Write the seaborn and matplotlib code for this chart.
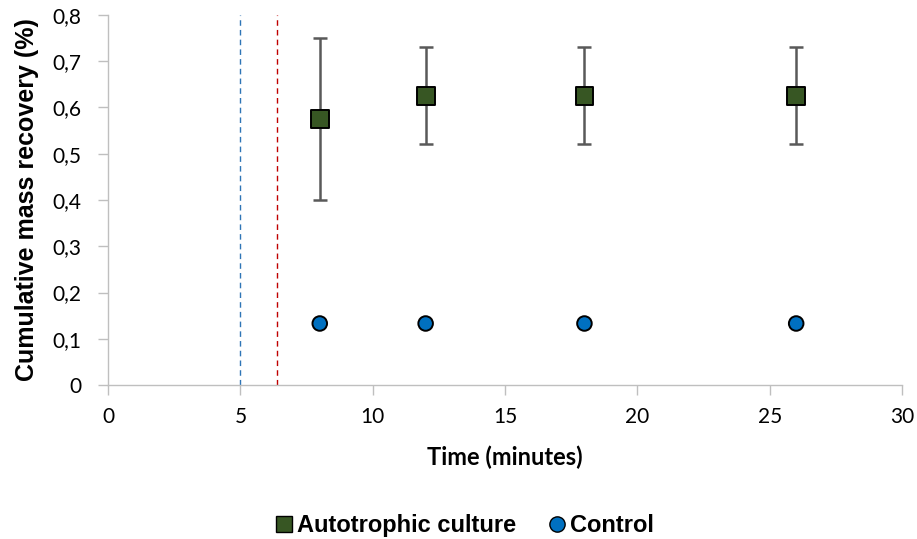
import matplotlib
matplotlib.use("Agg")
import matplotlib.pyplot as plt
from matplotlib.lines import Line2D
import seaborn as sns
import pandas as pd

# Sampling times (minutes) and cumulative mass recovery (%)
times = [8, 12, 18, 26]
autotrophic = [0.575, 0.625, 0.625, 0.625]
autotrophic_err = [0.175, 0.105, 0.105, 0.105]
control = [0.133, 0.133, 0.133, 0.133]

# Reference event times (minutes)
event_blue = 5.0
event_red = 6.4

x_ticks = [0, 5, 10, 15, 20, 25, 30]
y_ticks = [0, 0.1, 0.2, 0.3, 0.4, 0.5, 0.6, 0.7, 0.8]

sns.set_theme(style="white")
plt.rcParams["font.family"] = ["Liberation Sans", "DejaVu Sans"]
plt.rcParams["text.color"] = "black"

df = pd.DataFrame({
    "time": times * 2,
    "recovery": autotrophic + control,
    "series": ["Autotrophic culture"] * len(times) + ["Control"] * len(times),
})

fig = plt.figure(figsize=(9.17, 5.39), dpi=100)
ax = fig.add_axes([0.1178, 0.2857, 0.8659, 0.6865])

ax.axvline(event_blue, color="#2E75B6", lw=1.0, ls=(0, (4, 3)), zorder=1)
ax.axvline(event_red, color="#C00000", lw=1.0, ls=(0, (4, 3)), zorder=1)

ax.errorbar(times, autotrophic, yerr=autotrophic_err, fmt="none",
            ecolor="#595959", elinewidth=1.8, capsize=5, capthick=1.8, zorder=2)

sns.scatterplot(data=df, x="time", y="recovery", hue="series", style="series",
                markers={"Autotrophic culture": "s", "Control": "o"},
                palette={"Autotrophic culture": "#375623", "Control": "#0070C0"},
                size="series", sizes={"Autotrophic culture": 165, "Control": 110},
                edgecolor="black", linewidth=1.4, legend=False, ax=ax, zorder=3)

ax.set_xlim(0, 30)
ax.set_ylim(0, 0.8)
ax.set_xticks(x_ticks)
ax.set_yticks(y_ticks)
ax.set_xticklabels([str(v) for v in x_ticks], fontfamily="Lato")
ax.set_yticklabels(["0" if v == 0 else f"{v:.1f}".replace(".", ",") for v in y_ticks],
                   fontfamily="Lato")

for side in ["top", "right"]:
    ax.spines[side].set_visible(False)
for side in ["left", "bottom"]:
    ax.spines[side].set_color("#BFBFBF")
    ax.spines[side].set_linewidth(1.0)
ax.tick_params(axis="both", which="both", direction="out", length=7, width=1.0,
               color="#BFBFBF", labelsize=15, labelcolor="black",
               bottom=True, left=True)
ax.tick_params(axis="x", pad=9)
ax.tick_params(axis="y", pad=12)

ax.set_xlabel("Time (minutes)", fontsize=17, fontweight="bold", fontfamily="Lato",
              color="black", labelpad=13)
ax.set_ylabel("Cumulative mass recovery (%)", fontsize=18, fontweight="bold",
              color="black", labelpad=10)

handles = [
    Line2D([], [], marker="s", ls="none", markersize=11, markerfacecolor="#375623",
           markeredgecolor="black", markeredgewidth=1.0, label="Autotrophic culture"),
    Line2D([], [], marker="o", ls="none", markersize=11, markerfacecolor="#0070C0",
           markeredgecolor="black", markeredgewidth=1.0, label="Control"),
]
fig.legend(handles=handles, loc="center", bbox_to_anchor=(0.505, 0.025), ncol=2,
           frameon=False, handletextpad=0.05, columnspacing=1.2, handlelength=1.0,
           prop={"weight": "bold", "size": 17})

fig.savefig("out.png", dpi=100)
